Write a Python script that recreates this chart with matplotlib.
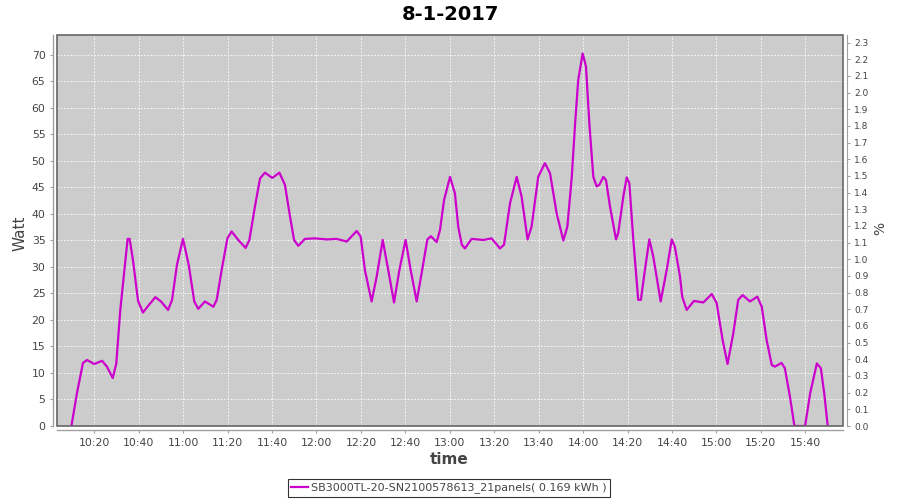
import numpy as np
import matplotlib
matplotlib.use("Agg")
import matplotlib.pyplot as plt
from matplotlib.patches import Rectangle
from matplotlib.ticker import FuncFormatter, MultipleLocator

# -----------------------
# data, time in minutes after 10:00
# -----------------------
minutes = [
    9.7, 12.2, 14.9, 16.7, 20.0, 23.5, 25.7, 28.3, 29.9, 31.7, 35.0, 35.9, 37.4, 39.7,
    41.9, 44.5, 47.5, 50.0, 53.2, 55.0, 57.2, 59.9, 62.5, 65.0, 66.8, 69.8, 73.6, 75.1,
    77.3, 79.9, 81.8, 84.8, 88.1, 89.8, 92.3, 94.6, 96.8, 100.1, 103.3, 105.8, 108.1, 109.9,
    111.8, 114.8, 119.3, 124.6, 129.1, 133.6, 138.1, 139.9, 141.8, 144.8, 147.1, 149.8, 152.3,
    154.9, 157.3, 160.1, 162.4, 165.1, 167.3, 169.9, 171.5, 174.1, 175.6, 177.4, 180.1, 182.3,
    183.8, 185.4, 186.8, 189.8, 195.1, 198.8, 202.6, 204.4, 207.1, 210.1, 212.3, 215.0, 216.8,
    219.8, 222.8, 225.1, 228.1, 231.1, 232.9, 234.9, 236.4, 237.8, 239.8, 241.3, 242.8, 244.6,
    246.1, 247.3, 249.1, 250.3, 252.1, 254.8, 255.8, 258.1, 259.6, 260.8, 262.6, 264.8, 266.0,
    267.8, 269.8, 271.6, 274.9, 277.6, 279.9, 281.3, 283.6, 284.6, 286.6, 289.9, 294.1, 297.9,
    300.1, 302.8, 305.0, 307.6, 309.8, 311.8, 315.1, 318.4, 320.4, 322.6, 324.9, 326.3, 329.3,
    330.8, 333.1, 335.1, 339.9, 342.2, 345.2, 347.0, 348.5, 350.1,
]
watt = [
    0.0, 6.2, 11.9, 12.45, 11.7, 12.3, 11.2, 9.05, 11.8, 21.9, 35.3, 35.3, 31.3, 23.6,
    21.4, 22.8, 24.3, 23.5, 21.9, 23.8, 30.4, 35.3, 30.4, 23.5, 22.1, 23.5, 22.5, 23.8,
    29.4, 35.4, 36.7, 35.1, 33.6, 35.1, 41.4, 46.7, 47.8, 46.8, 47.8, 45.5, 39.5, 35.1,
    34.0, 35.3, 35.4, 35.2, 35.3, 34.8, 36.8, 35.7, 29.4, 23.5, 28.2, 35.1, 29.4,
    23.3, 29.4, 35.1, 29.4, 23.5, 28.8, 35.2, 35.8, 34.7, 37.0, 42.6, 47.0, 43.9,
    37.6, 34.2, 33.5, 35.3, 35.1, 35.4, 33.5, 34.2, 42.0, 47.0, 43.3, 35.2, 37.6,
    47.0, 49.6, 47.7, 40.1, 35.0, 37.6, 47.0, 57.1, 65.3, 70.3, 67.8, 57.1, 47.0,
    45.2, 45.5, 47.0, 46.4, 41.4, 35.2, 36.4, 43.3, 46.9, 45.8, 35.1, 23.8, 23.8,
    29.4, 35.2, 31.9, 23.5, 29.4, 35.2, 33.8, 28.2, 24.4, 21.9, 23.6, 23.3, 24.9,
    23.2, 16.2, 11.7, 17.5, 23.8, 24.7, 23.5, 24.4, 22.5, 16.2, 11.5, 11.2, 11.9,
    10.9, 5.5, 0.0, 0.0, 6.2, 11.8, 10.9, 6.2, 0.0,
]
series_label = "SB3000TL-20-SN2100578613_21panels( 0.169 kWh )"
title = "8-1-2017"

t = np.array(minutes, dtype=float)
w = np.array(watt, dtype=float)

TXT = "#444444"
AXL = "#a0a0a0"

plt.rcParams["font.family"] = ["DejaVu Sans"]

fig = plt.figure(figsize=(9, 5), dpi=100)
ax = fig.add_axes([57.3 / 900, 74 / 500, 786 / 900, 391 / 500])
ax.set_facecolor("#cccccc")

line, = ax.plot(t, w, color="#cc00cc", lw=1.6, label=series_label, zorder=3)

ax.set_xlim(3.35, 357.1)
ax.set_ylim(0, 73.77)

def min_to_hhmm(x, pos):
    h = int(10 + x // 60)
    m = int(round(x % 60))
    return f"{h:02d}:{m:02d}"

ax.xaxis.set_major_locator(MultipleLocator(20))
ax.xaxis.set_major_formatter(FuncFormatter(min_to_hhmm))
ax.yaxis.set_major_locator(MultipleLocator(5))

ax.grid(True, color="white", ls=(0, (2, 2)), lw=0.6)
ax.set_axisbelow(True)

for s in ["top", "right"]:
    ax.spines[s].set_visible(False)
ax.spines["left"].set_position(("outward", 3))
ax.spines["bottom"].set_position(("outward", 3))
for s in ["left", "bottom"]:
    ax.spines[s].set_color(AXL)
    ax.spines[s].set_linewidth(1.0)

ax.tick_params(axis="both", colors=AXL, labelcolor=TXT, labelsize=7.8,
               length=2, width=0.8, pad=3.5)

# plot outline
ax.add_patch(Rectangle((0, 0), 1, 1, transform=ax.transAxes, fill=False,
                       edgecolor="#666666", lw=1.2, zorder=5, clip_on=False))

# right axis in percent
ax2 = ax.twinx()
ax2.set_ylim(0, 2.345)
ax2.yaxis.set_major_locator(MultipleLocator(0.1))
ax2.yaxis.set_major_formatter(FuncFormatter(lambda v, p: f"{v:.1f}"))
for s in ["top", "left", "bottom"]:
    ax2.spines[s].set_visible(False)
ax2.spines["right"].set_position(("outward", 3))
ax2.spines["right"].set_color(AXL)
ax2.tick_params(axis="y", colors=AXL, labelcolor=TXT, labelsize=6.5,
                length=2, width=0.8, pad=3)

fig.text(0.5, 1 - 14 / 500, title, ha="center", va="center",
         fontsize=14, fontweight="bold", color="black")
fig.text(20 / 900, 1 - 233 / 500, "Watt", rotation=90, ha="center", va="center",
         fontsize=11, color=TXT)
fig.text(449 / 900, 1 - 460 / 500, "time", ha="center", va="center",
         fontsize=11, fontweight="bold", color=TXT)
fig.text(880 / 900, 1 - 228 / 500, "%", rotation=90, ha="center", va="center",
         fontsize=10, color=TXT)

leg = fig.legend(handles=[line], loc="center", bbox_to_anchor=(449 / 900, 1 - 488 / 500),
                 fontsize=8.0, frameon=True, fancybox=False, handlelength=1.5,
                 handletextpad=0.3, borderpad=0.3, borderaxespad=0)
leg.get_frame().set_edgecolor("black")
leg.get_frame().set_linewidth(0.8)
for txt in leg.get_texts():
    txt.set_color(TXT)

fig.savefig("out.png", dpi=100)
